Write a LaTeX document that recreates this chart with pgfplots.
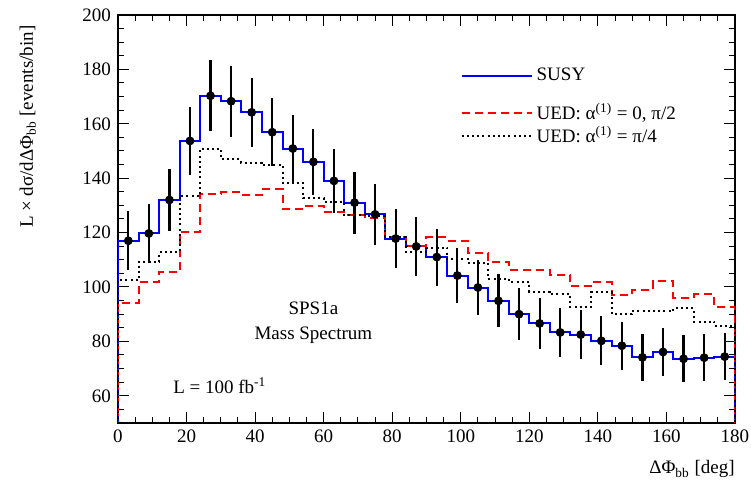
\documentclass[border=0pt]{standalone}
\usepackage{fontspec}
\setmainfont{Liberation Serif}
\usepackage{pgfplots}
\pgfplotsset{compat=1.18}
\pgfplotsset{lowlegend/.style={legend image code/.code={\draw[##1] (0pt,-4pt) -- (35pt,-4pt);}}}

\begin{document}
\begin{tikzpicture}
\path[use as bounding box] (-59pt,-31.5pt) rectangle (316.5pt,211.5pt);
\begin{axis}[
    scale only axis,
    width=308.5pt, height=204pt,
    xmin=0, xmax=180, ymin=50, ymax=200,
    xtick={0,20,...,180}, minor x tick num=3,
    ytick={60,80,...,200}, minor ytick={50,55,...,200},
    tick align=inside,
    major tick length=5.5pt, minor tick length=3pt,
    every tick/.style={black, line width=0.5pt},
    axis line style={line width=0.8pt, black},
    font=\fontsize{9.5}{11}\selectfont,
    /pgf/number format/assume math mode=true,
    xlabel={ΔΦ\textsubscript{bb} [deg]},
    ylabel={L × dσ/dΔΦ\textsubscript{bb} [events/bin]},
    xlabel style={at={(axis description cs:1,-0.125)}, anchor=base east, inner sep=0pt},
    ylabel style={at={(axis description cs:-0.146,0.975)}, anchor=east, inner sep=0pt},
    legend style={draw=none, fill=none, at={(axis description cs:0.545,0.89)}, anchor=north west,
        font=\fontsize{9.5}{11}\selectfont, row sep=-2.5pt},
    legend cell align=left,
    legend image code/.code={\draw[#1] (0pt,0pt) -- (35pt,0pt);},
]

% SUSY
\addplot[const plot, blue, line width=1pt] coordinates {
(0,0)(0,117.0)(6,119.7)(12,132.0)(18,153.7)(24,170.3)(30,168.3)(36,164.2)(42,156.9)
(48,150.9)(54,146.0)(60,139.0)(66,131.0)(72,126.7)(78,117.8)(84,114.9)(90,111.0)
(96,104.2)(102,99.8)(108,94.9)(114,90.0)(120,86.6)(126,83.3)(132,82.5)(138,80.2)
(144,78.4)(150,74.1)(156,76.1)(162,73.6)(168,74.0)(174,74.4)(180,74.4)(180,0)
};
\addlegendentry{SUSY}

% UED alpha = 0, pi/2
\addplot[const plot, red, line width=1pt, dash pattern=on 4pt off 2.5pt, lowlegend] coordinates {
(0,0)(0,94.1)(6,102.0)(12,105.4)(18,120.4)(24,134.3)(30,134.9)(36,133.8)(42,135.9)
(48,128.7)(54,129.9)(60,127.5)(66,126.4)(72,125.2)(78,118.4)(84,115.2)(90,118.2)
(96,116.8)(102,112.6)(108,109.3)(114,106.3)(120,106.2)(126,104.4)(132,100.2)(138,101.8)
(144,97.2)(150,99.0)(156,102.1)(162,96.1)(168,97.3)(174,92.8)(180,92.8)(180,0)
};
\addlegendentry{\rule{0pt}{16.5pt}UED: α\textsuperscript{(1)} = 0, π/2}

% UED alpha = pi/4
\addplot[const plot, black, line width=1pt, dash pattern=on 1pt off 1.6pt] coordinates {
(0,0)(0,102.4)(6,109.2)(12,112.7)(18,133.5)(24,150.9)(30,146.9)(36,145.7)(42,144.8)
(48,138.3)(54,132.7)(60,131.2)(66,126.4)(72,126.0)(78,118.4)(84,112.8)(90,114.5)
(96,110.3)(102,108.8)(108,103.0)(114,101.9)(120,98.3)(126,97.4)(132,92.6)(138,98.2)
(144,89.9)(150,91.1)(156,91.1)(162,92.3)(168,87.3)(174,85.6)(180,85.6)(180,0)
};
\addlegendentry{UED: α\textsuperscript{(1)} = π/4}

% pseudo-data with statistical errors
\addplot[forget plot, only marks, mark=*, mark size=2pt, black,
    error bars/.cd, y dir=both, y explicit, error mark=none,
    error bar style={line width=1.1pt, black}]
coordinates {
(3,117.0) +- (0,10.8)
(9,119.7) +- (0,10.9)
(15,132.0) +- (0,11.5)
(21,153.7) +- (0,12.4)
(27,170.3) +- (0,13.0)
(33,168.3) +- (0,13.0)
(39,164.2) +- (0,12.8)
(45,156.9) +- (0,12.5)
(51,150.9) +- (0,12.3)
(57,146.0) +- (0,12.1)
(63,139.0) +- (0,11.8)
(69,131.0) +- (0,11.4)
(75,126.7) +- (0,11.3)
(81,117.8) +- (0,10.9)
(87,114.9) +- (0,10.7)
(93,111.0) +- (0,10.5)
(99,104.2) +- (0,10.2)
(105,99.8) +- (0,10.0)
(111,94.9) +- (0,9.7)
(117,90.0) +- (0,9.5)
(123,86.6) +- (0,9.3)
(129,83.3) +- (0,9.1)
(135,82.5) +- (0,9.1)
(141,80.2) +- (0,9.0)
(147,78.4) +- (0,8.9)
(153,74.1) +- (0,8.6)
(159,76.1) +- (0,8.7)
(165,73.6) +- (0,8.6)
(171,74.0) +- (0,8.6)
(177,74.4) +- (0,8.6)
};

\node at (axis cs:57,92) {SPS1a};
\node at (axis cs:57,82.4) {Mass Spectrum};
\node at (axis cs:29.7,63.7) {L = 100 fb\textsuperscript{-1}};

\end{axis}
\end{tikzpicture}
\end{document}
